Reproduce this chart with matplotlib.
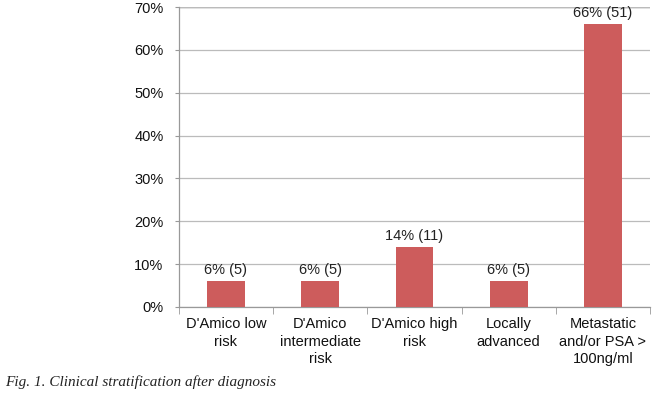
import matplotlib
matplotlib.use("Agg")
import matplotlib.pyplot as plt
from matplotlib.ticker import FuncFormatter, FixedLocator

# Data
categories = ["D'Amico low\nrisk", "D'Amico\nintermediate\nrisk", "D'Amico high\nrisk",
              "Locally\nadvanced", "Metastatic\nand/or PSA >\n100ng/ml"]
percent = [6, 6, 14, 6, 66]
counts = [5, 5, 11, 5, 51]
y_ticks = [0, 10, 20, 30, 40, 50, 60, 70]

plt.rcParams['font.family'] = ['Liberation Sans', 'DejaVu Sans']

fig = plt.figure(figsize=(6.6, 3.93), dpi=100)
ax = fig.add_axes([0.271, 0.219, 0.714, 0.763])

x = list(range(len(categories)))
bars = ax.bar(x, percent, width=0.4, color='#CD5C5C', zorder=3)

for xi, p, c in zip(x, percent, counts):
    ax.text(xi, p + 0.9, f"{p}% ({c})", ha='center', va='bottom', fontsize=10.5,
            color='#222222', zorder=4)

ax.set_xlim(-0.5, len(categories) - 0.5)
ax.set_ylim(0, 70)
ax.set_yticks(y_ticks)
ax.yaxis.set_major_formatter(FuncFormatter(lambda v, _: f"{int(v)}%"))
ax.grid(axis='y', color='#BBBBBB', linewidth=0.9, zorder=0)
ax.axhline(70, color='#888888', linewidth=1.0, zorder=1)

ax.set_xticks(x)
ax.set_xticklabels(categories, fontsize=10.5, color='#111111', linespacing=1.35)
ax.xaxis.set_minor_locator(FixedLocator([i - 0.5 for i in range(len(categories) + 1)]))
ax.tick_params(axis='x', which='major', length=0, pad=7)
ax.tick_params(axis='x', which='minor', length=5, color='#999999', direction='out')
ax.tick_params(axis='y', length=3, color='#999999', labelsize=10.5, labelcolor='#111111', pad=8)

for side in ['top', 'right']:
    ax.spines[side].set_visible(False)
for side in ['left', 'bottom']:
    ax.spines[side].set_color('#999999')
    ax.spines[side].set_linewidth(0.9)

fig.text(0.008, 0.018, "Fig. 1. Clinical stratification after diagnosis",
         family='Liberation Serif', style='italic', fontsize=11, color='#222222')

fig.savefig("out.png", dpi=100)
